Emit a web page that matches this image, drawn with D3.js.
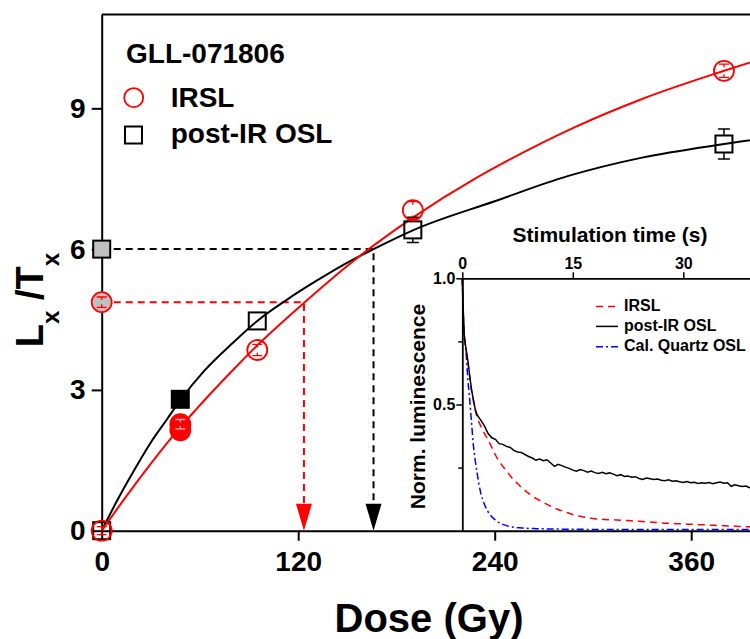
<!DOCTYPE html>
<html><head><meta charset="utf-8">
<script src="https://cdn.jsdelivr.net/npm/d3@7"></script>
<style>
body{margin:0;background:#fff;}
svg{display:block;font-family:"Liberation Sans",Arial,sans-serif;font-weight:bold;}
</style>
</head><body>
<script>
// ---------- main chart data ----------
const doseTicks = [0, 120, 240, 360];
const lxTicks = [0, 3, 6, 9];

const irslDose = [0, 95, 190, 380];
const irslLxTx = [0, 3.85, 6.83, 9.80];
const irslErr = [0.06, 0.12, 0.18, 0.14];
const irslRecDose = [48, 48];
const irslRecLxTx = [2.14, 2.27];
const irslRecErr = [0.1, 0.1];
const irslNatural = [4.87];
const irslNaturalErr = [0.11];
const irslDe = [123.5];

const oslDose = [0, 95, 190, 380];
const oslLxTx = [0, 4.47, 6.41, 8.24];
const oslErr = [0.06, 0.1, 0.27, 0.32];
const oslRecDose = [48];
const oslRecLxTx = [2.8];
const oslRecErr = [0.12];
const oslNatural = [6.0];
const oslNaturalErr = [0.12];
const oslDe = [166];

const irslFitDose = [0, 16, 28.5, 43, 57, 80, 95, 124, 152, 167, 190, 228, 245, 289, 330, 380, 420];
const irslFitLxTx = [0, 0.78, 1.36, 2.0, 2.56, 3.42, 3.95, 4.87, 5.7, 6.1, 6.67, 7.5, 7.83, 8.6, 9.2, 9.8, 10.24];
const oslFitDose = [0, 10, 20, 30, 40, 48, 63, 80, 95, 113, 130, 152, 166, 190, 240, 285, 330, 380, 420];
const oslFitLxTx = [0, 0.68, 1.3, 1.88, 2.38, 2.78, 3.42, 4.0, 4.47, 4.92, 5.3, 5.75, 6.0, 6.4, 7.02, 7.56, 7.95, 8.24, 8.44];

// ---------- inset data ----------
const timeTicks = [0, 15, 30];
const normTicks = [0.5, 1.0];
const normMinor = [0.25, 0.75];
const stimTime = [0, 0.1, 0.25, 0.5, 0.75, 1, 1.25, 1.5, 1.75, 2,
  2.5, 3, 3.5, 4, 4.5, 5, 5.5, 6, 6.5, 7, 7.5, 8, 8.5, 9, 9.5, 10,
  10.5, 11, 11.5, 12, 12.5, 13, 13.5, 14, 14.5, 15, 15.5, 16, 16.5, 17, 17.5, 18,
  18.5, 19, 19.5, 20, 20.5, 21, 21.5, 22, 22.5, 23, 23.5, 24, 24.5, 25, 25.5, 26,
  26.5, 27, 27.5, 28, 28.5, 29, 29.5, 30, 30.5, 31, 31.5, 32, 32.5, 33, 33.5, 34,
  34.5, 35, 35.5, 36, 36.5, 37, 37.5, 38, 38.5, 39, 39.5, 40];
const postIrOsl = [1.0, 0.90, 0.78, 0.72, 0.675, 0.615, 0.56, 0.52, 0.482, 0.46,
  0.438, 0.415, 0.385, 0.368, 0.362, 0.345, 0.342, 0.334, 0.33, 0.318, 0.312, 0.31, 0.302, 0.294, 0.288, 0.279,
  0.284, 0.277, 0.281, 0.268, 0.255, 0.263, 0.258, 0.252, 0.247, 0.24, 0.236, 0.242, 0.238, 0.232, 0.236, 0.23,
  0.227, 0.231, 0.226, 0.229, 0.224, 0.218, 0.222, 0.215, 0.217, 0.212, 0.214, 0.207, 0.203, 0.209, 0.206, 0.203,
  0.205, 0.2, 0.198, 0.202, 0.196, 0.198, 0.194, 0.191, 0.195, 0.19, 0.192, 0.187, 0.19, 0.188, 0.191, 0.186,
  0.19, 0.193, 0.188, 0.19, 0.176, 0.182, 0.178, 0.175, 0.177, 0.17, 0.168, 0.166];
const irslDecay = [1.0, 0.90, 0.78, 0.72, 0.67, 0.61, 0.555, 0.515, 0.478, 0.45,
  0.415, 0.385, 0.36, 0.33, 0.30, 0.275, 0.255, 0.236, 0.218, 0.2, 0.187, 0.172, 0.16, 0.148, 0.138, 0.128,
  0.12, 0.112, 0.104, 0.097, 0.09, 0.084, 0.079, 0.074, 0.069, 0.064, 0.06, 0.057, 0.054, 0.051, 0.049, 0.047,
  0.046, 0.045, 0.044, 0.043, 0.043, 0.042, 0.041, 0.04, 0.04, 0.039, 0.038, 0.037, 0.036, 0.035, 0.034, 0.033,
  0.032, 0.031, 0.03, 0.03, 0.029, 0.028, 0.028, 0.027, 0.026, 0.026, 0.025, 0.024, 0.024, 0.023, 0.022, 0.022,
  0.021, 0.021, 0.02, 0.019, 0.019, 0.018, 0.017, 0.016, 0.016, 0.015, 0.014, 0.014];
const quartzOsl = [1.0, 0.88, 0.78, 0.71, 0.60, 0.52, 0.43, 0.34, 0.28, 0.23,
  0.15, 0.105, 0.075, 0.055, 0.042, 0.032, 0.025, 0.02, 0.016, 0.014, 0.012, 0.011, 0.01, 0.009, 0.009, 0.008,
  0.008, 0.008, 0.007, 0.007, 0.007, 0.007, 0.006, 0.006, 0.006, 0.006, 0.006, 0.006, 0.006, 0.005, 0.005, 0.005,
  0.005, 0.005, 0.005, 0.005, 0.005, 0.005, 0.005, 0.005, 0.005, 0.005, 0.005, 0.005, 0.005, 0.005, 0.005, 0.005,
  0.005, 0.005, 0.005, 0.005, 0.005, 0.005, 0.005, 0.005, 0.005, 0.005, 0.005, 0.005, 0.005, 0.005, 0.005, 0.005,
  0.005, 0.005, 0.005, 0.005, 0.005, 0.005, 0.005, 0.005, 0.005, 0.005, 0.005, 0.005];

// ---------- drawing ----------
const RED = "#ff0000", BLUE = "#0000ff", GRAY = "#c0c0c0";
const svg = d3.select("body").append("svg").attr("width", 750).attr("height", 639);

const x = d3.scaleLinear().domain([0, 420]).range([101.7, 101.7 + 420 * 1.6375]);
const y = d3.scaleLinear().domain([0, 11]).range([530.7, 530.7 - 11 * 46.93]);

// frame top
svg.append("line").attr("x1", x(0)).attr("x2", x(420)).attr("y1", y(11)).attr("y2", y(11))
  .attr("stroke", "#000").attr("stroke-width", 2);

// axes
const xAxis = svg.append("g").attr("transform", `translate(0,${y(0)})`)
  .call(d3.axisBottom(x).tickValues(doseTicks).tickSize(10).tickSizeOuter(0).tickPadding(10));
const yAxis = svg.append("g").attr("transform", `translate(${x(0)},0)`)
  .call(d3.axisLeft(y).tickValues(lxTicks).tickSize(10).tickSizeOuter(0).tickPadding(6));
[xAxis, yAxis].forEach(g => {
  g.select(".domain").attr("stroke", "#000").attr("stroke-width", 2);
  g.selectAll(".tick line").attr("stroke", "#000").attr("stroke-width", 2);
  g.selectAll(".tick text").attr("font-size", 28).attr("font-weight", "bold")
    .attr("font-family", "'Liberation Sans',Arial,sans-serif").attr("fill", "#000");
});

// axis titles
svg.append("text").attr("x", 429).attr("y", 632).attr("text-anchor", "middle")
  .attr("font-size", 40).text("Dose (Gy)");
const yl = svg.append("text").attr("transform", "translate(43,300) rotate(-90)")
  .attr("text-anchor", "middle").attr("font-size", 38);
yl.append("tspan").text("L");
yl.append("tspan").attr("font-size", 24).attr("dy", 16).text("x");
yl.append("tspan").attr("dy", -16).text(" /");
yl.append("tspan").text("T");
yl.append("tspan").attr("font-size", 24).attr("dy", 16).text("x");

// De guide lines (dashed) and arrows
function guide(level, de, color) {
  svg.append("path")
    .attr("d", `M${x(0)},${y(level)}H${x(de)}V${y(0) - 27}`)
    .attr("fill", "none").attr("stroke", color).attr("stroke-width", 2).attr("stroke-dasharray", "7,5");
  svg.append("path")
    .attr("d", `M${x(de) - 8},${y(0) - 27}L${x(de) + 8},${y(0) - 27}L${x(de)},${y(0)}Z`)
    .attr("fill", color);
}
guide(oslNatural[0], oslDe[0], "#000");
guide(irslNatural[0], irslDe[0], RED);

// fitted growth curves
const fitLine = d3.line().x(d => x(d[0])).y(d => y(d[1])).curve(d3.curveMonotoneX);
svg.append("path").attr("d", fitLine(oslFitDose.map((d, i) => [d, oslFitLxTx[i]])))
  .attr("fill", "none").attr("stroke", "#000").attr("stroke-width", 2);
svg.append("path").attr("d", fitLine(irslFitDose.map((d, i) => [d, irslFitLxTx[i]])))
  .attr("fill", "none").attr("stroke", RED).attr("stroke-width", 2);

// error bars: squares -> only the part outside the symbol; circles -> caps with short stubs
const HALF = 8.5;
function squareErr(xs, ys, es, color) {
  xs.forEach((d, i) => {
    const cx = x(d), cy = y(ys[i]), h = y(ys[i] - es[i]) - cy;
    if (h <= HALF) return;
    svg.append("path")
      .attr("d", `M${cx},${cy - HALF}V${cy - h}M${cx - 6},${cy - h}H${cx + 6}M${cx},${cy + HALF}V${cy + h}M${cx - 6},${cy + h}H${cx + 6}`)
      .attr("fill", "none").attr("stroke", color).attr("stroke-width", 1.5);
  });
}
function circleErr(xs, ys, es, color) {
  xs.forEach((d, i) => {
    const cx = x(d), cy = y(ys[i]), h = Math.max(y(ys[i] - es[i]) - cy, 4);
    svg.append("path")
      .attr("d", `M${cx - 5},${cy - h}H${cx + 5}M${cx},${cy - h}V${cy - h + 3}M${cx - 5},${cy + h}H${cx + 5}M${cx},${cy + h}V${cy + h - 3}`)
      .attr("fill", "none").attr("stroke", color).attr("stroke-width", 1.3);
  });
}
function squares(xs, ys, fill) {
  xs.forEach((d, i) => {
    svg.append("rect").attr("x", x(d) - HALF).attr("y", y(ys[i]) - HALF).attr("width", 2 * HALF).attr("height", 2 * HALF)
      .attr("fill", fill).attr("stroke", "#000").attr("stroke-width", 2);
  });
}
function circles(xs, ys, fill) {
  xs.forEach((d, i) => {
    svg.append("circle").attr("cx", x(d)).attr("cy", y(ys[i])).attr("r", 10)
      .attr("fill", fill).attr("stroke", RED).attr("stroke-width", 1.8);
  });
}

// post-IR OSL points
squares(oslDose, oslLxTx, "none");
squareErr(oslDose, oslLxTx, oslErr, "#000");
squares(oslRecDose, oslRecLxTx, "#000");
squareErr(oslRecDose, oslRecLxTx, oslRecErr, "#000");
squares([0], oslNatural, GRAY);
squareErr([0], oslNatural, oslNaturalErr, "#000");

// IRSL points
circles(irslDose, irslLxTx, "none");
circleErr(irslDose, irslLxTx, irslErr, RED);
circles(irslRecDose, irslRecLxTx, RED);
circleErr(irslRecDose.slice(1), irslRecLxTx.slice(1), irslRecErr.slice(1), "#ffb0b0");
circles([0], irslNatural, GRAY);
circleErr([0], irslNatural, irslNaturalErr, RED);

// legend
svg.append("text").attr("x", 126).attr("y", 63).attr("font-size", 28).text("GLL-071806");
svg.append("circle").attr("cx", 133.7).attr("cy", 97.7).attr("r", 9.5)
  .attr("fill", "none").attr("stroke", RED).attr("stroke-width", 1.8);
svg.append("text").attr("x", 170.7).attr("y", 106.7).attr("font-size", 28).text("IRSL");
svg.append("rect").attr("x", 125).attr("y", 126.5).attr("width", 17).attr("height", 17)
  .attr("fill", "none").attr("stroke", "#000").attr("stroke-width", 2);
svg.append("text").attr("x", 170.7).attr("y", 142.7).attr("font-size", 28).text("post-IR OSL");

// ---------- inset ----------
const xi = d3.scaleLinear().domain([0, 45]).range([462.3, 462.3 + 45 * 7.367]);
const yi = d3.scaleLinear().domain([0, 1]).range([530.7, 278.3]);

const decayLine = d3.line().x(d => xi(d[0])).y(d => yi(d[1]));
const smoothDecay = d3.line().x(d => xi(d[0])).y(d => yi(d[1])).curve(d3.curveMonotoneX);
svg.append("path").attr("d", smoothDecay(stimTime.map((t, i) => [t, quartzOsl[i]])))
  .attr("fill", "none").attr("stroke", BLUE).attr("stroke-width", 1.5).attr("stroke-dasharray", "7,3,2,3");
svg.append("path").attr("d", smoothDecay(stimTime.map((t, i) => [t, irslDecay[i]])))
  .attr("fill", "none").attr("stroke", RED).attr("stroke-width", 1.5).attr("stroke-dasharray", "7,5");
svg.append("path").attr("d", decayLine(stimTime.map((t, i) => [t, postIrOsl[i]])))
  .attr("fill", "none").attr("stroke", "#000").attr("stroke-width", 1.5);

const xiAxis = svg.append("g").attr("transform", `translate(0,${yi(1)})`)
  .call(d3.axisTop(xi).tickValues(timeTicks).tickSize(6).tickSizeOuter(0).tickPadding(3));
const yiAxis = svg.append("g").attr("transform", `translate(${xi(0)},0)`)
  .call(d3.axisLeft(yi).tickValues(normTicks).tickFormat(d3.format(".1f")).tickSize(6).tickSizeOuter(0).tickPadding(1));
svg.append("g").attr("transform", `translate(${xi(0)},0)`)
  .call(d3.axisLeft(yi).tickValues(normMinor).tickFormat("").tickSize(4).tickSizeOuter(0))
  .call(g => g.select(".domain").remove())
  .selectAll(".tick line").attr("stroke", "#000").attr("stroke-width", 1.5);
[xiAxis, yiAxis].forEach(g => {
  g.select(".domain").attr("stroke", "#000").attr("stroke-width", 1.8);
  g.selectAll(".tick line").attr("stroke", "#000").attr("stroke-width", 1.5);
  g.selectAll(".tick text").attr("font-size", 16).attr("font-weight", "bold")
    .attr("font-family", "'Liberation Sans',Arial,sans-serif").attr("fill", "#000");
});

svg.append("text").attr("x", 610).attr("y", 241.7).attr("text-anchor", "middle")
  .attr("font-size", 21).text("Stimulation time (s)");
svg.append("text").attr("transform", "translate(425,406.5) rotate(-90)").attr("text-anchor", "middle")
  .attr("font-size", 21).text("Norm. luminescence");

// inset legend
const insetLegend = [
  {label: "IRSL", color: RED, dash: "7,5", yb: 310.7},
  {label: "post-IR OSL", color: "#000", dash: null, yb: 330.7},
  {label: "Cal. Quartz OSL", color: BLUE, dash: "7,3,2,3", yb: 351}
];
insetLegend.forEach(l => {
  svg.append("line").attr("x1", 596).attr("x2", 618).attr("y1", l.yb - 4.3).attr("y2", l.yb - 4.3)
    .attr("stroke", l.color).attr("stroke-width", 1.5).attr("stroke-dasharray", l.dash);
  svg.append("text").attr("x", 624).attr("y", l.yb).attr("font-size", 16).text(l.label);
});
</script>
</body></html>
